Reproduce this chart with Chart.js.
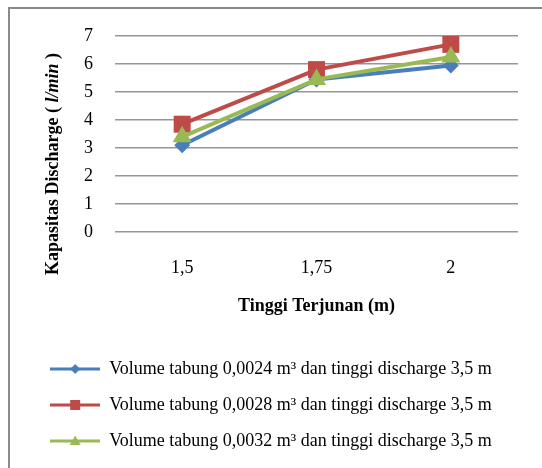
<!DOCTYPE html>
<html>
<head>
<meta charset="utf-8">
<script src="https://cdn.jsdelivr.net/npm/chart.js@4.4.1/dist/chart.umd.min.js"></script>
<style>
  html, body { margin: 0; padding: 0; background: #fff; }
  #wrap { position: relative; width: 542px; height: 468px; }
</style>
</head>
<body>
<div id="wrap"><canvas id="chart" width="542" height="468"></canvas></div>
<script>
/* ── data ── */
const heights = ['1,5', '1,75', '2'];
const vol0024 = [3.1, 5.45, 5.95];
const vol0028 = [3.85, 5.8, 6.7];
const vol0032 = [3.4, 5.45, 6.25];
const seriesNames = [
  'Volume tabung 0,0024 m³ dan tinggi discharge 3,5 m',
  'Volume tabung 0,0028 m³ dan tinggi discharge 3,5 m',
  'Volume tabung 0,0032 m³ dan tinggi discharge 3,5 m',
];

const COLORS = { blue: '#4a7ebb', red: '#be4b48', green: '#98b954' };
const FONT = "'Liberation Serif', 'Times New Roman', serif";

// legend sample: short line with the marker in the middle
function legendSample(color, style) {
  const c = document.createElement('canvas');
  c.width = 50; c.height = 14;
  const g = c.getContext('2d');
  g.strokeStyle = color; g.lineWidth = 3;
  g.beginPath(); g.moveTo(0, 7); g.lineTo(50, 7); g.stroke();
  g.fillStyle = color;
  g.beginPath();
  if (style === 'diamond') {
    g.moveTo(25, 2); g.lineTo(30, 7); g.lineTo(25, 12); g.lineTo(20, 7);
  } else if (style === 'square') {
    g.rect(20, 2, 10, 10);
  } else {
    g.moveTo(25, 1.5); g.lineTo(30.5, 11); g.lineTo(19.5, 11);
  }
  g.closePath(); g.fill();
  return c;
}

const samples = [
  legendSample(COLORS.blue, 'diamond'),
  legendSample(COLORS.red, 'square'),
  legendSample(COLORS.green, 'triangle'),
];

// outer frame + rotated y title (mixed bold / bold italic)
const framePlugin = {
  id: 'frame',
  beforeDraw(chart) {
    const ctx = chart.ctx;
    ctx.save();
    ctx.strokeStyle = '#8a8a8a';
    ctx.lineWidth = 2;
    ctx.strokeRect(9, 8, 700, 700);
    ctx.restore();
  },
  afterDraw(chart) {
    const ctx = chart.ctx;
    const parts = [
      { t: 'Kapasitas Discharge ( ', f: 'bold 18px ' + FONT },
      { t: 'l/min', f: 'italic bold 18px ' + FONT },
      { t: ' )', f: 'bold 18px ' + FONT },
    ];
    ctx.save();
    let total = 0;
    parts.forEach(p => { ctx.font = p.f; p.w = ctx.measureText(p.t).width; total += p.w; });
    ctx.translate(53, 164);
    ctx.rotate(-Math.PI / 2);
    ctx.fillStyle = '#000';
    ctx.textBaseline = 'middle';
    let x = -total / 2;
    parts.forEach(p => { ctx.font = p.f; ctx.fillText(p.t, x, 0); x += p.w; });
    ctx.restore();
  }
};

new Chart(document.getElementById('chart'), {
  type: 'line',
  data: {
    labels: heights,
    datasets: [
      { label: seriesNames[0], data: vol0024, borderColor: COLORS.blue, backgroundColor: COLORS.blue,
        pointStyle: 'rectRot', pointRadius: 8, order: 2 },
      { label: seriesNames[1], data: vol0028, borderColor: COLORS.red, backgroundColor: COLORS.red,
        pointStyle: 'rect', pointRadius: 12, order: 1 },
      { label: seriesNames[2], data: vol0032, borderColor: COLORS.green, backgroundColor: COLORS.green,
        pointStyle: 'triangle', pointRadius: 11, order: 0 },
    ].map(d => ({ ...d, borderWidth: 4, pointBorderWidth: 0, tension: 0 }))
  },
  options: {
    responsive: false,
    animation: false,
    layout: { padding: { left: 0, right: 0, top: 36, bottom: 8 } },
    plugins: {
      tooltip: { enabled: false },
      legend: {
        position: 'bottom',
        labels: {
          color: '#000',
          font: { family: FONT, size: 18 },
          usePointStyle: true,
          pointStyleWidth: 50,
          padding: 18,
          generateLabels(chart) {
            return chart.data.datasets.map((d, i) => ({
              text: d.label,
              pointStyle: samples[i],
              fillStyle: d.borderColor,
              strokeStyle: d.borderColor,
              lineWidth: 0,
              hidden: false,
              datasetIndex: i,
            }));
          }
        }
      }
    },
    scales: {
      x: {
        offset: true,
        grid: { display: false, drawTicks: false },
        border: { display: false },
        ticks: { color: '#000', font: { family: FONT, size: 18 }, padding: 25 },
        title: { display: true, text: 'Tinggi Terjunan (m)', color: '#000',
                 font: { family: FONT, size: 18, weight: 'bold' }, padding: { top: 0, bottom: 25 } },
        afterFit(scale) { scale.height = 110; }
      },
      y: {
        min: 0, max: 7,
        ticks: { stepSize: 1, color: '#000', font: { family: FONT, size: 18 }, padding: 22 },
        grid: { color: '#969696', lineWidth: 1.5, drawTicks: false },
        border: { display: false },
        afterFit(scale) { scale.width = 115; }
      },
      // empty right gutter so the plot ends at the same place while the legend stays centred
      gutter: {
        type: 'linear', position: 'right', min: 0, max: 1,
        grid: { display: false, drawTicks: false },
        border: { display: false },
        ticks: { display: false },
        afterFit(scale) { scale.width = 24; }
      }
    }
  },
  plugins: [framePlugin]
});
</script>
</body>
</html>
